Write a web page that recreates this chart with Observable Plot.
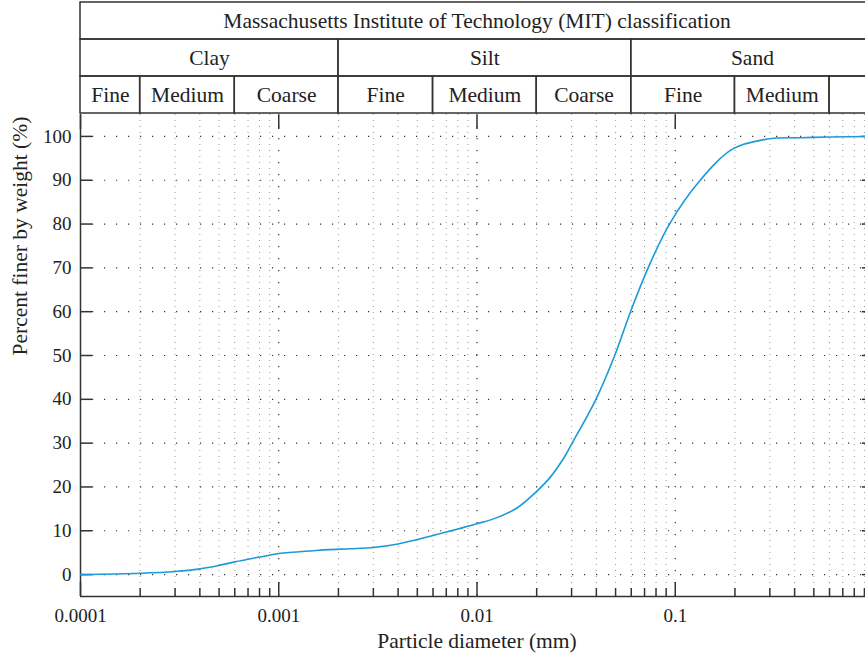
<!DOCTYPE html>
<html>
<head>
<meta charset="utf-8">
<script src="https://cdn.jsdelivr.net/npm/d3@7"></script>
<script src="https://cdn.jsdelivr.net/npm/@observablehq/plot@0.6"></script>
<style>
  html, body { margin: 0; padding: 0; background: #fff; overflow: hidden; }
  #chart { width: 865px; height: 657px; overflow: hidden; }
  #chart svg { display: block; max-width: none !important; }
</style>
</head>
<body>
<div id="chart"></div>
<script>
// Grain-size distribution: particle diameter (mm) vs percent finer by weight
const diameterMm = [0.0001, 0.0002, 0.0003, 0.0004, 0.0005, 0.0006, 0.0008, 0.001, 0.0015, 0.0018,
  0.0023, 0.003, 0.004, 0.005, 0.006, 0.007, 0.008, 0.01, 0.0126, 0.0159, 0.02, 0.0235,
  0.0274, 0.0302, 0.0398, 0.0495, 0.0595, 0.073, 0.0935, 0.1336, 0.1963, 0.2914, 0.4294, 0.6, 1];
const percentFiner = [0, 0.3, 0.7, 1.3, 2.1, 2.9, 4.0, 4.8, 5.45, 5.7,
  5.9, 6.2, 7.0, 8.0, 8.9, 9.7, 10.4, 11.6, 13.0, 15.2, 19.0, 22.3,
  26.6, 30, 40, 50, 60, 70, 80, 90, 97.2, 99.4, 99.7, 99.85, 100];

// MIT soil classification bands (limits in mm)
const classTitle = "Massachusetts Institute of Technology (MIT) classification";
const groupNames = ["Clay", "Silt", "Sand"];
const groupBounds = [0.0001, 0.002, 0.06, 1];
const subNames = ["Fine", "Medium", "Coarse", "Fine", "Medium", "Coarse", "Fine", "Medium"];
const subBounds = [0.0001, 0.0002, 0.0006, 0.002, 0.006, 0.02, 0.06, 0.2, 0.6, 1];

// Axis ticks
const xTickValues = [0.0001, 0.001, 0.01, 0.1];
const xTickLabels = ["0.0001", "0.001", "0.01", "0.1"];
const yTickValues = [0, 10, 20, 30, 40, 50, 60, 70, 80, 90, 100];
const xMinorTicks = d3.range(-4, 0).flatMap(e => d3.range(2, 10).map(m => +(m * 10 ** e).toPrecision(3)));

const xDomain = [0.0001, 1];
const W = 873, ML = 80;
const ink = "#333";
const textInk = "#222";
const wordSize = 21.5;
const style = {
  fontFamily: '"Liberation Serif", "DejaVu Serif", serif',
  fontSize: "19px",
  background: "transparent",
  maxWidth: "none"
};

// Header table rows
const cells = [{ row: 0, lo: groupBounds[0], hi: groupBounds[groupBounds.length - 1], label: classTitle }];
groupNames.forEach((g, i) => cells.push({ row: 1, lo: groupBounds[i], hi: groupBounds[i + 1], label: g }));
for (let i = 0; i < subBounds.length - 1; i++) {
  cells.push({ row: 2, lo: subBounds[i], hi: subBounds[i + 1], label: subNames[i] });
}

const header = Plot.plot({
  width: W, height: 114,
  marginLeft: ML, marginRight: 0, marginTop: 2, marginBottom: 1,
  x: { type: "log", domain: xDomain, axis: null },
  y: { domain: [0, 3], reverse: true, axis: null },
  style,
  marks: [
    Plot.rect(cells, { x1: "lo", x2: "hi", y1: "row", y2: d => d.row + 1, fill: "none", stroke: ink, strokeWidth: 1.5 }),
    Plot.text(cells.filter(d => d.label), {
      x: d => Math.sqrt(d.lo * d.hi), y: d => d.row + 0.5, text: "label", fill: textInk, fontSize: wordSize
    })
  ]
});

const curve = diameterMm.map((d, i) => ({ d, p: percentFiner[i] }));

const main = Plot.plot({
  width: W, height: 543,
  marginLeft: ML, marginRight: 0, marginTop: 0, marginBottom: 61,
  x: { type: "log", domain: xDomain, axis: null },
  y: { domain: [-5, 105], axis: null },
  style,
  marks: [
    // dotted grid
    Plot.ruleX(xMinorTicks, { stroke: "#9a9a9a", strokeWidth: 1, strokeDasharray: "1,5" }),
    Plot.ruleX(xTickValues.slice(1), { stroke: ink, strokeWidth: 1.2, strokeDasharray: "1.2,10.8" }),
    Plot.ruleY(yTickValues, { stroke: ink, strokeWidth: 1.2, strokeDasharray: "1.2,10.8" }),
    // frame lines
    Plot.ruleX([xDomain[0]], { stroke: ink, strokeWidth: 1.5 }),
    Plot.ruleY([-5], { stroke: ink, strokeWidth: 1.5 }),
    // inward ticks
    Plot.axisY(yTickValues, { anchor: "left", tickSize: -12, fill: "none", stroke: ink, strokeWidth: 1.5, label: null }),
    Plot.axisY(yTickValues, { anchor: "right", tickSize: -12, fill: "none", stroke: ink, strokeWidth: 1.5, label: null }),
    Plot.axisX(xTickValues, { anchor: "bottom", tickSize: -14, fill: "none", stroke: ink, strokeWidth: 1.5, label: null }),
    Plot.axisX(xMinorTicks, { anchor: "bottom", tickSize: -8, fill: "none", stroke: ink, strokeWidth: 1.5, label: null }),
    Plot.axisX(xTickValues, { anchor: "top", tickSize: -14, fill: "none", stroke: ink, strokeWidth: 1.5, label: null }),
    // tick labels
    Plot.text(yTickValues, { y: d => d, text: d => String(d), frameAnchor: "left", dx: -9, textAnchor: "end", fill: textInk }),
    Plot.text(xTickValues, { x: d => d, text: (d, i) => xTickLabels[i], frameAnchor: "bottom", lineAnchor: "middle", dy: 19, fill: textInk }),
    // axis titles
    Plot.text(["Particle diameter (mm)"], { frameAnchor: "bottom", lineAnchor: "middle", dy: 45, fill: textInk, fontSize: wordSize }),
    Plot.text(["Percent finer by weight (%)"], { frameAnchor: "left", dx: -60, rotate: -90, fill: textInk, fontSize: wordSize }),
    // gradation curve
    Plot.line(curve, { x: "d", y: "p", curve: "catmull-rom", stroke: "#1b9ad8", strokeWidth: 1.6 })
  ]
});

const root = document.getElementById("chart");
root.appendChild(header);
root.appendChild(main);
</script>
</body>
</html>
